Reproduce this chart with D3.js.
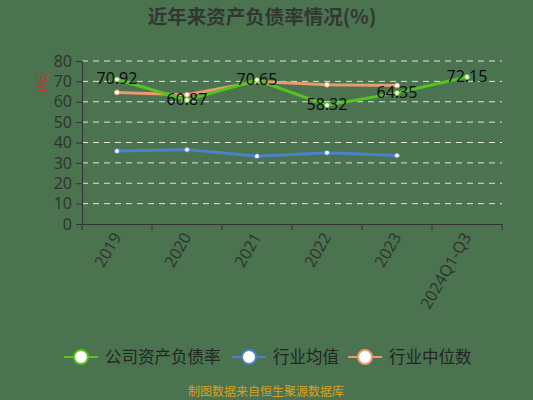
<!DOCTYPE html>
<html>
<head>
<meta charset="utf-8">
<script src="https://cdn.jsdelivr.net/npm/d3@7"></script>
<style>
  html, body { margin: 0; padding: 0; background: #4b7350; }
  svg { display: block; font-family: "Noto Sans CJK SC", "Noto Sans", sans-serif; }
</style>
</head>
<body>
<div id="chart"></div>
<script>
// data
const years = ["2019", "2020", "2021", "2022", "2023", "2024Q1-Q3"];
const companyRate = [70.92, 60.87, 70.65, 58.32, 64.35, 72.15];
const industryMean = [35.8, 36.5, 33.3, 35.0, 33.6, null];
const industryMedian = [64.6, 63.4, 69.9, 68.4, 68.0, null];
const yTicks = [0, 10, 20, 30, 40, 50, 60, 70, 80];
const seriesNames = ["公司资产负债率", "行业均值", "行业中位数"];
const seriesColors = ["#58c21e", "#4c82cc", "#e99a6e"];

const width = 533, height = 400;
const margin = { top: 61, right: 31, bottom: 176, left: 82 };

const svg = d3.select("#chart").append("svg")
  .attr("width", width)
  .attr("height", height);

svg.append("rect").attr("width", width).attr("height", height).attr("fill", "#4b7350");

// title
svg.append("text")
  .attr("x", 262).attr("y", 24)
  .attr("text-anchor", "middle")
  .attr("font-size", 19.5).attr("font-weight", "bold")
  .attr("fill", "#333733")
  .text("近年来资产负债率情况(%)");

const x = d3.scaleBand()
  .domain(years)
  .range([margin.left, width - margin.right]);

const y = d3.scaleLinear()
  .domain([0, 80])
  .range([height - margin.bottom, margin.top]);

// grid lines
svg.append("g")
  .selectAll("line")
  .data(yTicks.filter(d => d > 0))
  .join("line")
  .attr("x1", margin.left).attr("x2", width - margin.right)
  .attr("y1", d => y(d)).attr("y2", d => y(d))
  .attr("stroke", "#dde3d8")
  .attr("stroke-width", 1)
  .attr("stroke-dasharray", "6,5");

// y axis
const yAxis = svg.append("g")
  .attr("transform", `translate(${margin.left},0)`)
  .call(d3.axisLeft(y).tickValues(yTicks).tickSize(6).tickPadding(4));
yAxis.select(".domain").attr("stroke", "#333");
yAxis.selectAll(".tick line").attr("stroke", "#333");
yAxis.selectAll("text").attr("font-size", 16).attr("fill", "#2e322e")
  .attr("font-family", "'Open Sans', 'Noto Sans', sans-serif");

svg.append("text")
  .attr("transform", "translate(42,82) rotate(-90)")
  .attr("text-anchor", "middle")
  .attr("dy", "0.35em")
  .attr("font-size", 13)
  .attr("fill", "#d42a1e")
  .text("(%)");

// x axis
const xAxis = svg.append("g")
  .attr("transform", `translate(0,${height - margin.bottom})`)
  .call(d3.axisBottom(x).tickSize(0).tickPadding(0));
xAxis.select(".domain").attr("stroke", "#333");
xAxis.selectAll(".tick text")
  .attr("font-size", 16).attr("fill", "#2e322e")
  .attr("font-family", "'Open Sans', 'Noto Sans', sans-serif")
  .attr("text-anchor", "end")
  .attr("dy", "0.35em")
  .attr("transform", "translate(0,10) rotate(-60)");
// band boundary ticks
xAxis.append("g")
  .selectAll("line")
  .data(years.map(d => x(d)).concat([x.range()[1]]))
  .join("line")
  .attr("x1", d => d).attr("x2", d => d)
  .attr("y1", 0).attr("y2", 6)
  .attr("stroke", "#333");

const cx = d => x(d) + x.bandwidth() / 2;
const allSeries = [companyRate, industryMean, industryMedian];
const line = d3.line()
  .defined(d => d.v != null)
  .x(d => cx(d.year))
  .y(d => y(d.v));

// draw median, mean, then company on top
[2, 1, 0].forEach(i => {
  const pts = years.map((yr, j) => ({ year: yr, v: allSeries[i][j] }));
  svg.append("path")
    .datum(pts)
    .attr("fill", "none")
    .attr("stroke", seriesColors[i])
    .attr("stroke-width", 3)
    .attr("d", line);
  svg.append("g")
    .selectAll("circle")
    .data(pts.filter(d => d.v != null))
    .join("circle")
    .attr("cx", d => cx(d.year))
    .attr("cy", d => y(d.v))
    .attr("r", 2.5)
    .attr("fill", "#fff")
    .attr("stroke", seriesColors[i])
    .attr("stroke-width", 1);
});

// data labels for company
svg.append("g")
  .selectAll("text")
  .data(years.map((yr, j) => ({ year: yr, v: companyRate[j] })))
  .join("text")
  .attr("x", d => cx(d.year))
  .attr("y", d => y(d.v))
  .attr("dy", "0.3em")
  .attr("text-anchor", "middle")
  .attr("font-size", 16)
  .attr("font-family", "'Open Sans', 'Noto Sans', sans-serif")
  .attr("fill", "#0a0a0a")
  .text(d => d.v.toFixed(2));

// legend
const legendX = [64, 232, 348];
const legend = svg.append("g").attr("transform", "translate(0,357)");
seriesNames.forEach((name, i) => {
  const g = legend.append("g").attr("transform", `translate(${legendX[i]},0)`);
  g.append("line").attr("x1", 0).attr("x2", 34).attr("y1", 0).attr("y2", 0)
    .attr("stroke", seriesColors[i]).attr("stroke-width", 2);
  g.append("circle").attr("cx", 17).attr("cy", 0).attr("r", 7)
    .attr("fill", "#fff").attr("stroke", seriesColors[i]).attr("stroke-width", 2);
  g.append("text").attr("x", 41).attr("y", 0).attr("dy", "0.35em")
    .attr("font-size", 16.5).attr("fill", "#222622")
    .text(name);
});

// footer
svg.append("text")
  .attr("x", 266).attr("y", 396)
  .attr("text-anchor", "middle")
  .attr("font-size", 12)
  .attr("fill", "#d8a21e")
  .text("制图数据来自恒生聚源数据库");
</script>
</body>
</html>
